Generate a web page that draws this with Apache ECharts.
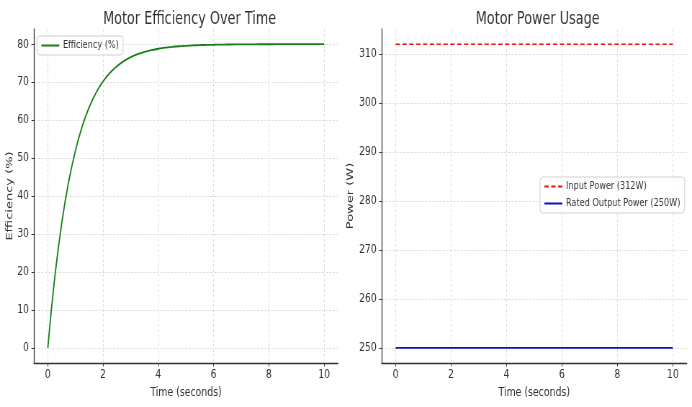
<!DOCTYPE html>
<html>
<head>
<meta charset="utf-8">
<script src="https://cdn.jsdelivr.net/npm/echarts@6/dist/echarts.min.js"></script>
<style>
html,body{margin:0;padding:0;background:#fff;overflow:hidden}
#wrap{width:692px;height:407px;overflow:hidden}
#c{width:961px;height:407px;transform:scaleX(0.72008);transform-origin:0 0}
</style>
</head>
<body>
<div id="wrap"><div id="c"></div></div>
<script>
// Efficiency over time
var effTime = [0,0.25,0.5,0.75,1,1.25,1.5,1.75,2,2.25,2.5,2.75,3,3.25,3.5,3.75,4,4.25,4.5,4.75,5,5.25,5.5,5.75,6,6.25,6.5,6.75,7,7.25,7.5,7.75,8,8.25,8.5,8.75,9,9.25,9.5,9.75,10];
var effValues = [0,18.5,32.7,43.6,52.0,58.5,63.45,67.27,70.21,72.47,74.21,75.55,76.58,77.37,77.98,78.44,78.80,79.08,79.29,79.46,79.58,79.68,79.75,79.81,79.85,79.89,79.91,79.93,79.95,79.96,79.97,79.98,79.98,79.99,79.99,79.99,79.99,80.0,80.0,80.0,80.0];
// Power usage
var powerTime = [0,10];
var inputPower = [312,312];
var ratedOutput = [250,250];
// Tick labels
var xTicks = [0,2,4,6,8,10];
var effTicks = [0,10,20,30,40,50,60,70,80];
var powerTicks = [250,260,270,280,290,300,310];

var FONT = '"DejaVu Sans",sans-serif';
var TXT = '#333333';

function pairs(xs, ys){ return xs.map(function(x,i){return [x, ys[i]];}); }

function xAxis(gi){
  return {
    type:'value', gridIndex:gi, min:-0.5, max:10.5,
    name:'Time (seconds)', nameLocation:'middle', nameGap:21,
    nameTextStyle:{fontFamily:FONT, fontSize:13, color:TXT},
    axisLine:{show:true, onZero:false, lineStyle:{color:'#333', width:1.3}},
    axisTick:{show:true, customValues:xTicks, length:3.5, lineStyle:{color:'#333'}},
    axisLabel:{customValues:xTicks, fontFamily:FONT, fontSize:12.8, color:TXT, margin:5},
    splitLine:{show:true, lineStyle:{color:'#d6d6d6', type:[3,2], width:0.8}}
  };
}
function yAxis(gi, min, max, ticks, name, gap){
  return {
    type:'value', gridIndex:gi, min:min, max:max,
    name:name, nameLocation:'middle', nameGap:gap,
    nameTextStyle:{fontFamily:FONT, fontSize:13, color:TXT},
    axisLine:{show:true, onZero:false, lineStyle:{color:'#333', width:1.3}},
    axisTick:{show:true, customValues:ticks, length:3.5, lineStyle:{color:'#333'}},
    axisLabel:{customValues:ticks, fontFamily:FONT, fontSize:12.8, color:TXT, margin:7},
    splitLine:{show:true, lineStyle:{color:'#d6d6d6', type:[3,2], width:0.8}}
  };
}

var legendCommon = {
  orient:'vertical',
  backgroundColor:'rgba(255,255,255,0.8)', borderColor:'#d0d0d0', borderWidth:1, borderRadius:4,
  padding:[4,6,4,5], itemWidth:25, itemHeight:10, itemGap:6,
  itemStyle:{opacity:0},
  textStyle:{fontFamily:FONT, fontSize:11.3, color:TXT}
};

var chart = echarts.init(document.getElementById('c'), null, {renderer:'canvas'});
chart.setOption({
  animation:false,
  backgroundColor:'#fff',
  title:[
    {text:'Motor Efficiency Over Time', left:258.3, top:5, textAlign:'center',
     textStyle:{fontFamily:FONT, fontSize:17.8, fontWeight:'normal', color:TXT}},
    {text:'Motor Power Usage', left:741.7, top:5, textAlign:'center',
     textStyle:{fontFamily:FONT, fontSize:17.8, fontWeight:'normal', color:TXT}}
  ],
  grid:[
    {left:47.2, right:491.6, top:29, bottom:44},
    {left:530.1, right:7.3, top:29, bottom:44}
  ],
  legend:[
    Object.assign({data:['Efficiency (%)'], left:51.4, top:36}, legendCommon),
    Object.assign({data:['Input Power (312W)','Rated Output Power (250W)'], left:750, top:177}, legendCommon)
  ],
  xAxis:[xAxis(0), xAxis(1)],
  yAxis:[yAxis(0,-4,84,effTicks,'Efficiency (%)',26), yAxis(1,246.9,315.1,powerTicks,'Power (W)',37)],
  series:[
    {name:'Efficiency (%)', type:'line', xAxisIndex:0, yAxisIndex:0, smooth:0.4, showSymbol:false, symbol:'none',
     data:pairs(effTime, effValues), lineStyle:{color:'#168016', width:1.8}, itemStyle:{color:'#168016'}},
    {name:'Input Power (312W)', type:'line', xAxisIndex:1, yAxisIndex:1, showSymbol:false, symbol:'none',
     data:pairs(powerTime, inputPower), lineStyle:{color:'#ee1111', width:1.6, type:[6,3.5]}, itemStyle:{color:'#ee1111'}},
    {name:'Rated Output Power (250W)', type:'line', xAxisIndex:1, yAxisIndex:1, showSymbol:false, symbol:'none',
     data:pairs(powerTime, ratedOutput), lineStyle:{color:'#1111bb', width:1.8}, itemStyle:{color:'#1111bb'}}
  ]
});
</script>
</body>
</html>
